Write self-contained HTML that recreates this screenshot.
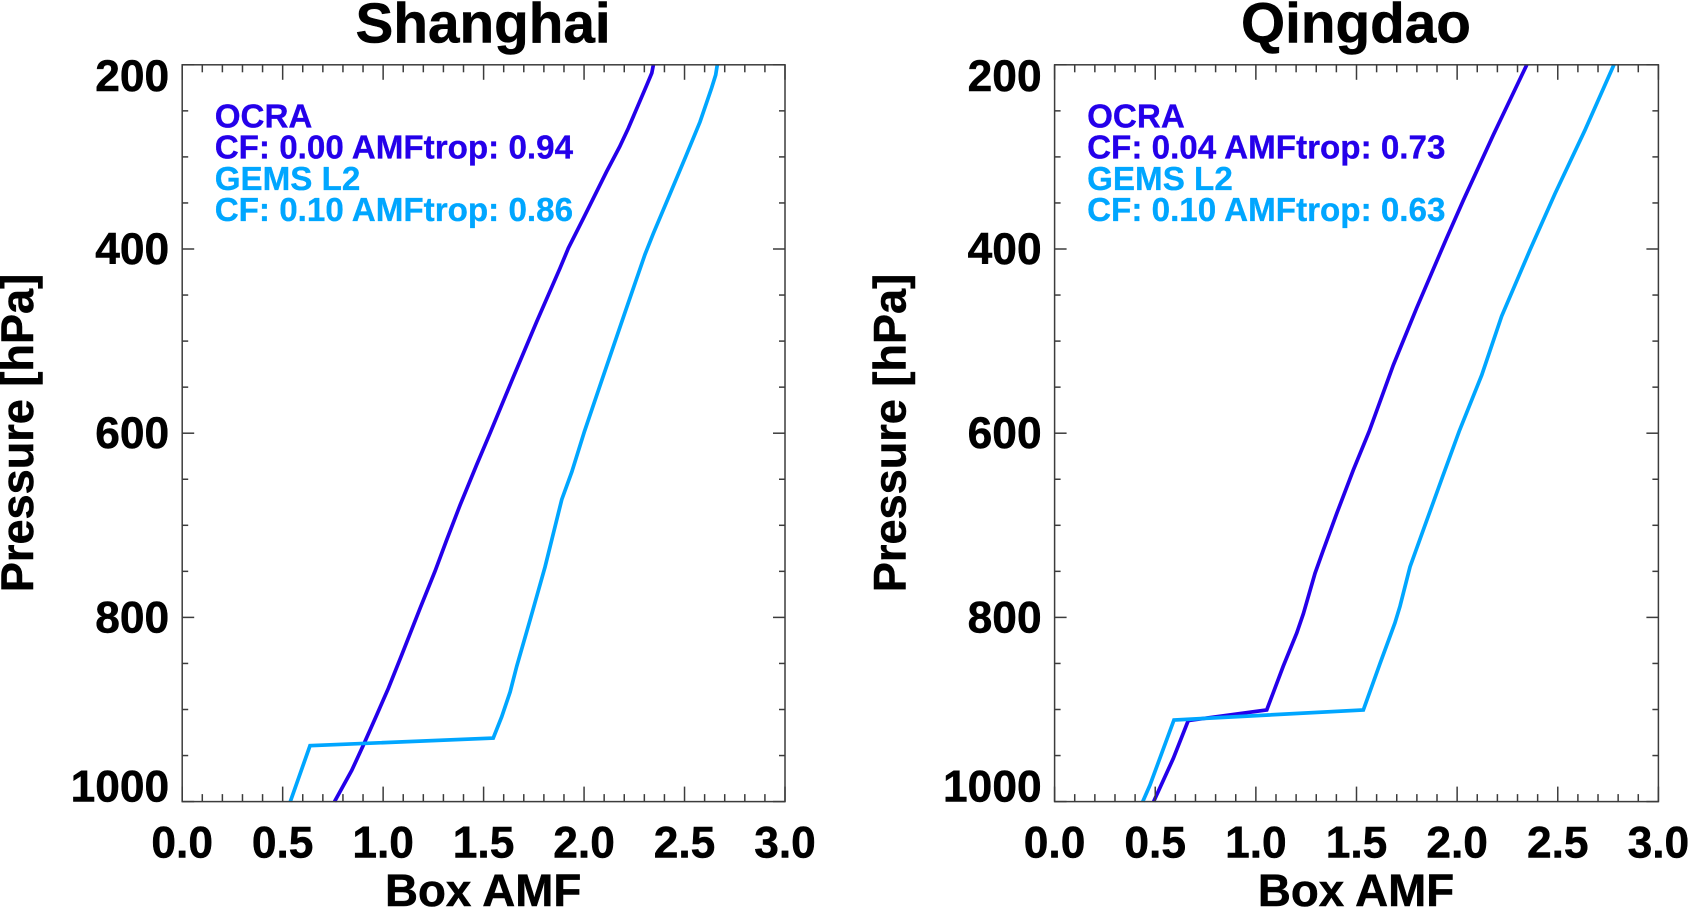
<!DOCTYPE html>
<html>
<head>
<meta charset="utf-8">
<title>Box AMF profiles</title>
<style>
html,body{margin:0;padding:0;background:#fff;width:1689px;height:909px;overflow:hidden}
svg{display:block}
text{font-family:"Liberation Sans",Arial,sans-serif;font-weight:bold;fill:#000;stroke:#000;stroke-width:.5px}
</style>
</head>
<body>
<svg id="chart" width="1689" height="909" viewBox="0 0 1689 909" xmlns="http://www.w3.org/2000/svg"></svg>
<script>
// Tick values
const xTickLabels = ["0.0", "0.5", "1.0", "1.5", "2.0", "2.5", "3.0"];
const xTickValues = [0, 0.5, 1, 1.5, 2, 2.5, 3];
const xMinorValues = [0.1,0.2,0.3,0.4,0.6,0.7,0.8,0.9,1.1,1.2,1.3,1.4,1.6,1.7,1.8,1.9,2.1,2.2,2.3,2.4,2.6,2.7,2.8,2.9];
const yTickValues = [200, 400, 600, 800, 1000];
const yTickLabels = ["200", "400", "600", "800", "1000"];
const yMinorValues = [250, 300, 350, 450, 500, 550, 650, 700, 750, 850, 900, 950];

// Shanghai series
const shanghaiOcraPressure = [200,209,222,269,289,316,367,399,421,479,539,600,634,678,716,750,790,841,877,906,939,966,1000];
const shanghaiOcraAmf = [2.345,2.337,2.312,2.220,2.177,2.112,1.996,1.922,1.880,1.764,1.648,1.532,1.466,1.383,1.316,1.258,1.184,1.092,1.026,0.968,0.901,0.844,0.758];
const shanghaiGemsPressure = [200,211,225,262,300,340,383,406,468,535,598,642,672,709,745,803,853,881,908,931,939.3,1000];
const shanghaiGemsAmf = [2.663,2.655,2.635,2.577,2.505,2.428,2.345,2.303,2.205,2.100,2.002,1.939,1.889,1.847,1.806,1.731,1.665,1.632,1.590,1.548,0.636,0.538];

// Qingdao series
const qingdaoOcraPressure = [200,276,347,388,464,526,598,640,687,727,752,796,817,853,900.5,912,953,1000];
const qingdaoOcraAmf = [2.346,2.180,2.031,1.948,1.799,1.683,1.563,1.484,1.402,1.335,1.294,1.236,1.203,1.136,1.054,0.664,0.590,0.492];
const qingdaoGemsPressure = [200,271,340,401,473,537,598,647,705,745,788,806,850,900.5,911.4,982,1000];
const qingdaoGemsAmf = [2.779,2.635,2.486,2.362,2.221,2.122,2.010,1.928,1.832,1.766,1.716,1.691,1.617,1.534,0.593,0.474,0.438];

// Printed legend strings
const shanghaiLegend = ["OCRA", "CF: 0.00 AMFtrop: 0.94", "GEMS L2", "CF: 0.10 AMFtrop: 0.86"];
const qingdaoLegend = ["OCRA", "CF: 0.04 AMFtrop: 0.73", "GEMS L2", "CF: 0.10 AMFtrop: 0.63"];

const NS = "http://www.w3.org/2000/svg";
const svg = document.getElementById("chart");
const OCRA_COLOR = "#2400ea";
const GEMS_COLOR = "#00a6ff";
const AXIS_COLOR = "#3c3c3c";
const xMin = 0, xMax = 3, yMin = 200, yMax = 1000;
const plotTop = 64.8, plotBottom = 801.6;

function mk(parent, tag, attrs, txt) {
  const el = document.createElementNS(NS, tag);
  for (const k in attrs) el.setAttribute(k, attrs[k]);
  if (txt !== undefined) el.textContent = txt;
  parent.appendChild(el);
  return el;
}

function drawPanel(slug, title, left, right, legend, ocraP, ocraA, gemsP, gemsA) {
  const xScale = v => left + (v - xMin) / (xMax - xMin) * (right - left);
  const yScale = v => plotTop + (v - yMin) / (yMax - yMin) * (plotBottom - plotTop);
  const cx = (left + right) / 2;

  const g = document.createElementNS(NS, "g");
  
  
  svg.appendChild(g);

  const titleEl = mk(g, "text", {x: cx - 0.5, y: 42.5, "font-size": 56.7, "text-anchor": "middle"}, title);
  
  

  function line(name, color, P, A) {
    const d = P.map((p, i) => xScale(A[i]).toFixed(2) + "," + yScale(p).toFixed(2)).join(" ");
    const pl = mk(g, "polyline", {points: d, fill: "none", stroke: color, "stroke-width": 3.7, "stroke-linejoin": "miter", "stroke-linecap": "butt"});
    
    
  }
  line("ocra", OCRA_COLOR, ocraP, ocraA);
  line("gems", GEMS_COLOR, gemsP, gemsA);

  const frame = mk(g, "rect", {x: left, y: plotTop, width: right - left, height: plotBottom - plotTop, fill: "none", stroke: AXIS_COLOR, "stroke-width": 1.5});
  
  

  function tick(name, x1, y1, x2, y2) {
    const t = mk(g, "line", {x1: x1, y1: y1, x2: x2, y2: y2, stroke: AXIS_COLOR, "stroke-width": 1.5});
    
    
  }
  xTickValues.forEach(v => {
    const x = xScale(v);
    tick(slug + "-x-major-tick", x, plotTop, x, plotTop + 15);
    tick(slug + "-x-major-tick", x, plotBottom, x, plotBottom - 15);
  });
  xMinorValues.forEach(v => {
    const x = xScale(v);
    tick(slug + "-x-minor-tick", x, plotTop, x, plotTop + 7.5);
    tick(slug + "-x-minor-tick", x, plotBottom, x, plotBottom - 7.5);
  });
  yTickValues.forEach(v => {
    const y = yScale(v);
    tick(slug + "-y-major-tick", left, y, left + 12, y);
    tick(slug + "-y-major-tick", right, y, right - 12, y);
  });
  yMinorValues.forEach(v => {
    const y = yScale(v);
    tick(slug + "-y-minor-tick", left, y, left + 6, y);
    tick(slug + "-y-minor-tick", right, y, right - 6, y);
  });

  xTickLabels.forEach((s, i) => {
    const t = mk(g, "text", {x: xScale(xTickValues[i]), y: 857.5, "font-size": 44.3, "text-anchor": "middle"}, s);
    
    
  });
  yTickLabels.forEach((s, i) => {
    const base = Math.min(Math.max(yScale(yTickValues[i]) + 15, plotTop + 26), plotBottom);
    const t = mk(g, "text", {x: left - 13, y: base, "font-size": 44.3, "text-anchor": "end"}, s);
    
    
  });

  const xt = mk(g, "text", {x: cx - 0.5, y: 906, "font-size": 45.7, "text-anchor": "middle"}, "Box AMF");
  
  

  const ytX = left - 149, ytY = 433;
  const yt = mk(g, "text", {x: ytX, y: ytY, "font-size": 45.1, "text-anchor": "middle", transform: "rotate(-90 " + ytX + " " + ytY + ")"}, "Pressure [hPa]");
  
  

  const legendColors = [OCRA_COLOR, OCRA_COLOR, GEMS_COLOR, GEMS_COLOR];
  const legendNames = ["ocra-label", "ocra-stats", "gems-label", "gems-stats"];
  legend.forEach((s, i) => {
    const t = mk(g, "text", {x: left + 32.5, y: 127.5 + i * 31.2, "font-size": 33.2, style: "fill:" + legendColors[i] + ";stroke:" + legendColors[i] + ";stroke-width:.3px"}, s);
    
    
  });
}

drawPanel("shanghai", "Shanghai", 182.2, 785, shanghaiLegend, shanghaiOcraPressure, shanghaiOcraAmf, shanghaiGemsPressure, shanghaiGemsAmf);
drawPanel("qingdao", "Qingdao", 1054.6, 1658.4, qingdaoLegend, qingdaoOcraPressure, qingdaoOcraAmf, qingdaoGemsPressure, qingdaoGemsAmf);
</script>
</body>
</html>
